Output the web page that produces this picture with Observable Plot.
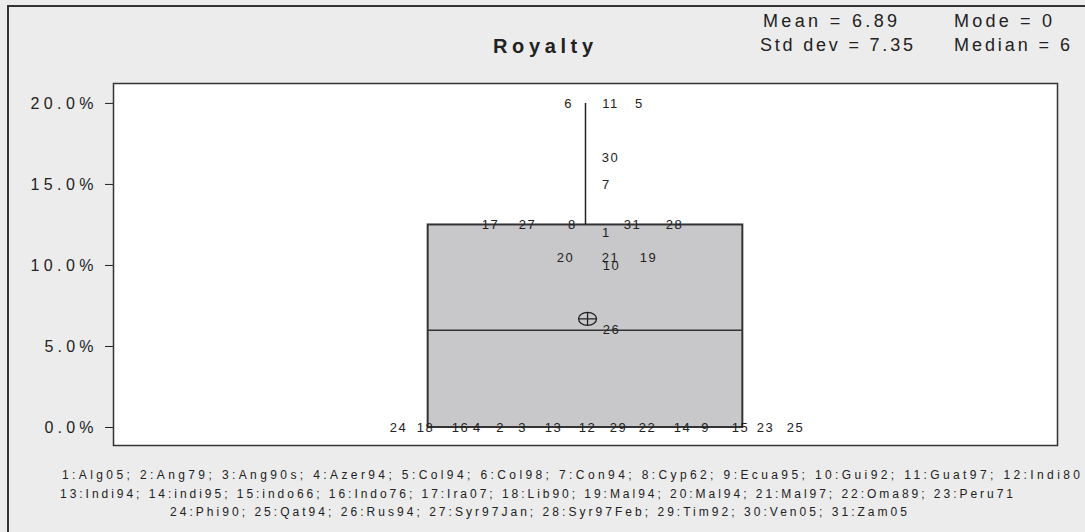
<!DOCTYPE html>
<html><head><meta charset="utf-8">
<script src="https://cdn.jsdelivr.net/npm/d3@7"></script>
<script src="https://cdn.jsdelivr.net/npm/@observablehq/plot@0.6"></script>
<style>
body{margin:0;background:#ececec;}
#wrap{position:relative;width:1085px;height:532px;background:#ececec;overflow:hidden;font-family:"Liberation Sans",Arial,sans-serif;}
#border{position:absolute;left:7px;top:5px;width:1200px;height:600px;border:2px solid #333;box-sizing:border-box}
#chart{position:absolute;left:0;top:0}
#overlay{position:absolute;left:0;top:0}
#chart svg g[aria-label="text"] text{letter-spacing:1.5px}
</style>
</head><body>
<div id="wrap"><div id="border"></div><div id="chart"></div><svg id="overlay" width="1085" height="532"></svg></div>
<script>
// ---- data ----
const title = "Royalty";
const names = ["Alg05","Ang79","Ang90s","Azer94","Col94","Col98","Con94","Cyp62","Ecua95","Gui92","Guat97","Indi80",
  "Indi94","indi95","indo66","Indo76","Ira07","Lib90","Mal94","Mal94","Mal97","Oma89","Peru71",
  "Phi90","Qat94","Rus94","Syr97Jan","Syr97Feb","Tim92","Ven05","Zam05"];
const royalty = [12,0,0,0,20,20,15,12.5,0,10,20,0,0,0,0,0,12.5,0,10.5,10.5,10.5,0,0,0,0,6,12.5,12.5,0,16.67,12.5];
// horizontal label spread, in box half-widths
const labelSpread = [0.133,-0.540,-0.400,-0.687,0.343,-0.108,0.133,-0.083,0.763,0.165,0.159,0.013,-0.203,0.617,0.985,
  -0.795,-0.604,-1.017,0.400,-0.127,0.159,0.394,1.144,-1.189,1.335,0.165,-0.369,0.566,0.210,0.159,0.299];
const legendBreaks = [12, 23, 31];
const yTicks = [0, 5, 10, 15, 20];

// ---- derived ----
const points = royalty.map((v, i) => ({id: i + 1, v, jx: labelSpread[i]}));
const sorted = royalty.slice().sort(d3.ascending);
const q1 = d3.quantileSorted(sorted, 0.25), q3 = d3.quantileSorted(sorted, 0.75);
const med = d3.median(royalty), mean = d3.mean(royalty), sd = d3.deviation(royalty), mode = d3.mode(royalty);
const box = [{x1: -1, x2: 1, y1: q1, y2: q3}];
const whisker = [{x: 0, y1: q3, y2: d3.max(royalty)}];
const medLine = [{x1: -1, x2: 1, y: med}];
const meanPt = [{x: 0.013, y: mean}];

const ellipseCross = {
  draw(ctx, size) {
    const rx = 9, ry = 6.5, k = 0.5523;
    ctx.moveTo(rx, 0);
    ctx.bezierCurveTo(rx, ry * k, rx * k, ry, 0, ry);
    ctx.bezierCurveTo(-rx * k, ry, -rx, ry * k, -rx, 0);
    ctx.bezierCurveTo(-rx, -ry * k, -rx * k, -ry, 0, -ry);
    ctx.bezierCurveTo(rx * k, -ry, rx, -ry * k, rx, 0);
    ctx.closePath();
    ctx.moveTo(-rx, 0); ctx.lineTo(rx, 0);
    ctx.moveTo(0, -ry); ctx.lineTo(0, ry);
  }
};

const chart = Plot.plot({
  width: 1085, height: 460,
  marginLeft: 113, marginRight: 28, marginTop: 83, marginBottom: 15,
  style: {background: "transparent", fontFamily: "'Liberation Sans', Arial, sans-serif", fontSize: "16px", color: "#222"},
  x: {domain: [-3, 3], axis: null},
  y: {domain: [-1.11, 21.23], ticks: yTicks, tickFormat: d => d.toFixed(1) + "%", tickSize: 8, tickPadding: 12, label: null},
  marks: [
    Plot.frame({fill: "white", stroke: "#333", strokeWidth: 1.5}),
    Plot.rect(box, {x1: "x1", x2: "x2", y1: "y1", y2: "y2", fill: "#c8c8ca", stroke: "#333", strokeWidth: 2}),
    Plot.ruleX(whisker, {x: "x", y1: "y1", y2: "y2", stroke: "#222", strokeWidth: 1.5}),
    Plot.ruleY(medLine, {y: "y", x1: "x1", x2: "x2", stroke: "#333", strokeWidth: 1.5}),
    Plot.dot(meanPt, {x: "x", y: "y", symbol: ellipseCross, r: 6, stroke: "#222", strokeWidth: 1.3, fill: "none", dy: 3}),
    Plot.text(points, {x: "jx", y: "v", text: "id", fontSize: 13, fill: "#222"})
  ]
});
document.getElementById("chart").appendChild(chart);
// widen y tick labels like the reference (spaced-out glyphs)
d3.select(chart).selectAll('g[aria-label^="y-axis"] text').each(function() {
  const n = this.textContent.length;
  this.setAttribute("textLength", n >= 5 ? 63 : 49);
  this.setAttribute("lengthAdjust", "spacing");
});

// ---- titles, stats, legend ----
const ov = d3.select("#overlay");
const ff = "'Liberation Sans', Arial, sans-serif";
function put(txt, x, y, size, len, weight) {
  ov.append("text").attr("x", x).attr("y", y).attr("font-family", ff).attr("font-size", size)
    .attr("font-weight", weight || "normal").attr("fill", "#222")
    .attr("textLength", len).attr("lengthAdjust", "spacing").text(txt);
}
put(title, 493, 53, 20, 100, "bold");
put(`Mean = ${mean.toFixed(2)}`, 763, 27, 18, 134);
put(`Std dev = ${sd.toFixed(2)}`, 760, 51, 18, 153);
put(`Mode = ${mode}`, 954, 27, 18, 98);
put(`Median = ${med}`, 954, 51, 18, 116);
const legendLines = [];
let start = 0;
for (const end of legendBreaks) {
  legendLines.push(d3.range(start, end).map(i => `${i + 1}:${names[i]}`).join("; "));
  start = end;
}
const legX = [62, 60, 170], legY = [479, 498, 516], legLen = [1018, 953, 737];
legendLines.forEach((t, i) => put(t, legX[i], legY[i], 12, legLen[i]));
</script>
</body></html>
